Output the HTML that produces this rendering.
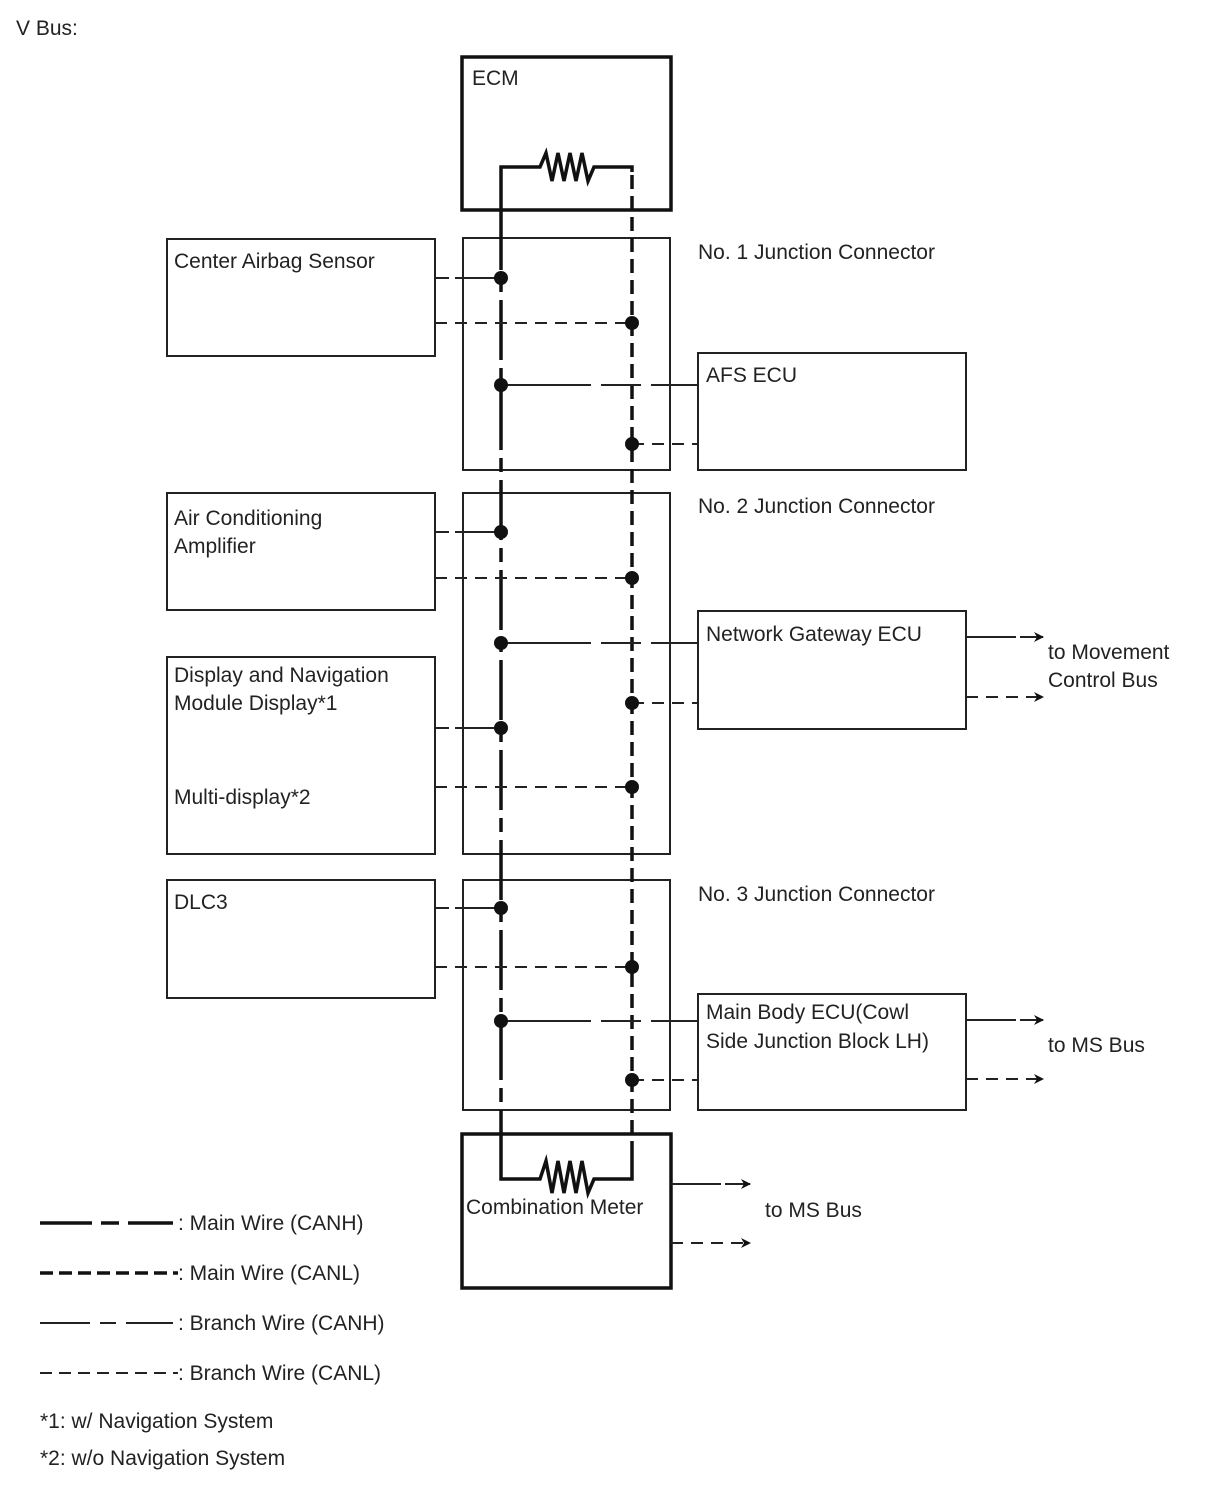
<!DOCTYPE html>
<html><head><meta charset="utf-8"><style>
html,body{margin:0;padding:0;background:#fff;}
svg{display:block;}
text{font-family:"Liberation Sans",Arial,sans-serif;font-size:21px;fill:#222;}
</style></head><body>
<svg width="1210" height="1498" viewBox="0 0 1210 1498" xmlns="http://www.w3.org/2000/svg">
<defs>
<marker id="ah" markerWidth="10" markerHeight="10" refX="9" refY="5" orient="auto" markerUnits="userSpaceOnUse">
<path d="M0,0 L10,5 L0,10 L3,5 Z" fill="#111"/></marker>
</defs>
<text x="16" y="35">V Bus:</text>

<!-- thick boxes -->
<rect x="462" y="57" width="209" height="153" fill="none" stroke="#111" stroke-width="3.5"/>
<rect x="462" y="1134" width="209" height="154" fill="none" stroke="#111" stroke-width="3.5"/>
<!-- junction boxes -->
<g fill="none" stroke="#222" stroke-width="2">
<rect x="463" y="238" width="207" height="232"/>
<rect x="463" y="493" width="207" height="361"/>
<rect x="463" y="880" width="207" height="230"/>
<rect x="167" y="239" width="268" height="117"/>
<rect x="167" y="493" width="268" height="117"/>
<rect x="167" y="657" width="268" height="197"/>
<rect x="167" y="880" width="268" height="118"/>
<rect x="698" y="353" width="268" height="117"/>
<rect x="698" y="611" width="268" height="118"/>
<rect x="698" y="994" width="268" height="116"/>
</g>

<!-- resistors -->
<g fill="none" stroke="#111" stroke-width="3.5" stroke-linejoin="miter">
<polyline points="501,210 501,167 540,167 546,153 552,181 558,153 564,181 570,153 576,181 582,153 588,181 594,167 632,167 632,172"/>
<polyline points="501,1150 501,1179 540,1179 546,1161 552,1193 558,1161 564,1193 570,1161 576,1193 582,1161 588,1193 594,1179 632,1179 632,1150"/>
</g>

<!-- main wires -->
<line x1="501" y1="210" x2="501" y2="1150" stroke="#111" stroke-width="3.5" stroke-dasharray="60 8 14 8"/>
<line x1="632" y1="175" x2="632" y2="1150" stroke="#111" stroke-width="3.5" stroke-dasharray="14 7"/>

<!-- branch CANH (left) -->
<g stroke="#222" stroke-width="2" fill="none">
<line x1="435" y1="278" x2="501" y2="278" stroke-dasharray="14 6 46"/>
<line x1="435" y1="532" x2="501" y2="532" stroke-dasharray="14 6 46"/>
<line x1="435" y1="728" x2="501" y2="728" stroke-dasharray="14 6 46"/>
<line x1="435" y1="908" x2="501" y2="908" stroke-dasharray="14 6 46"/>
<!-- right CANH -->
<line x1="501" y1="385" x2="698" y2="385" stroke-dasharray="90 10 40 10 200"/>
<line x1="501" y1="643" x2="698" y2="643" stroke-dasharray="90 10 40 10 200"/>
<line x1="501" y1="1021" x2="698" y2="1021" stroke-dasharray="90 10 40 10 200"/>
<!-- CANL branches -->
<g stroke-dasharray="12 8">
<line x1="435" y1="323" x2="632" y2="323"/>
<line x1="435" y1="578" x2="632" y2="578"/>
<line x1="435" y1="787" x2="632" y2="787"/>
<line x1="435" y1="967" x2="632" y2="967"/>
<line x1="632" y1="444" x2="698" y2="444"/>
<line x1="632" y1="703" x2="698" y2="703"/>
<line x1="632" y1="1080" x2="698" y2="1080"/>
</g>
<!-- arrows -->
<line x1="966" y1="637" x2="1043" y2="637" stroke-dasharray="50 4 30" marker-end="url(#ah)"/>
<line x1="966" y1="697" x2="1043" y2="697" stroke-dasharray="12 8" marker-end="url(#ah)"/>
<line x1="966" y1="1020" x2="1043" y2="1020" stroke-dasharray="50 4 30" marker-end="url(#ah)"/>
<line x1="966" y1="1079" x2="1043" y2="1079" stroke-dasharray="12 8" marker-end="url(#ah)"/>
<line x1="671" y1="1184" x2="750" y2="1184" stroke-dasharray="50 4 30" marker-end="url(#ah)"/>
<line x1="671" y1="1243" x2="750" y2="1243" stroke-dasharray="12 8" marker-end="url(#ah)"/>
</g>

<!-- dots -->
<g fill="#111">
<circle cx="501" cy="278" r="7"/><circle cx="632" cy="323" r="7"/>
<circle cx="501" cy="385" r="7"/><circle cx="632" cy="444" r="7"/>
<circle cx="501" cy="532" r="7"/><circle cx="632" cy="578" r="7"/>
<circle cx="501" cy="643" r="7"/><circle cx="632" cy="703" r="7"/>
<circle cx="501" cy="728" r="7"/><circle cx="632" cy="787" r="7"/>
<circle cx="501" cy="908" r="7"/><circle cx="632" cy="967" r="7"/>
<circle cx="501" cy="1021" r="7"/><circle cx="632" cy="1080" r="7"/>
</g>

<!-- labels -->
<text x="472" y="85">ECM</text>
<text x="174" y="268">Center Airbag Sensor</text>
<text x="698" y="259">No. 1 Junction Connector</text>
<text x="706" y="382">AFS ECU</text>
<text x="174" y="525">Air Conditioning</text>
<text x="174" y="553">Amplifier</text>
<text x="698" y="513">No. 2 Junction Connector</text>
<text x="706" y="641">Network Gateway ECU</text>
<text x="1048" y="659">to Movement</text>
<text x="1048" y="687">Control Bus</text>
<text x="174" y="682">Display and Navigation</text>
<text x="174" y="710">Module Display*1</text>
<text x="174" y="804">Multi-display*2</text>
<text x="174" y="909">DLC3</text>
<text x="698" y="901">No. 3 Junction Connector</text>
<text x="706" y="1019">Main Body ECU(Cowl</text>
<text x="706" y="1048">Side Junction Block LH)</text>
<text x="1048" y="1052">to MS Bus</text>
<text x="466" y="1214">Combination Meter</text>
<text x="765" y="1217">to MS Bus</text>

<!-- legend -->
<line x1="40" y1="1223" x2="173" y2="1223" stroke="#111" stroke-width="3.5" stroke-dasharray="52 9 18 9 52"/>
<text x="178" y="1230">: Main Wire (CANH)</text>
<line x1="40" y1="1273" x2="178" y2="1273" stroke="#111" stroke-width="3.5" stroke-dasharray="13 6"/>
<text x="178" y="1280">: Main Wire (CANL)</text>
<line x1="40" y1="1323" x2="173" y2="1323" stroke="#222" stroke-width="2" stroke-dasharray="50 10 16 10 50"/>
<text x="178" y="1330">: Branch Wire (CANH)</text>
<line x1="40" y1="1373" x2="178" y2="1373" stroke="#222" stroke-width="2" stroke-dasharray="12 7"/>
<text x="178" y="1380">: Branch Wire (CANL)</text>
<text x="40" y="1428">*1: w/ Navigation System</text>
<text x="40" y="1465">*2: w/o Navigation System</text>
</svg>
</body></html>
